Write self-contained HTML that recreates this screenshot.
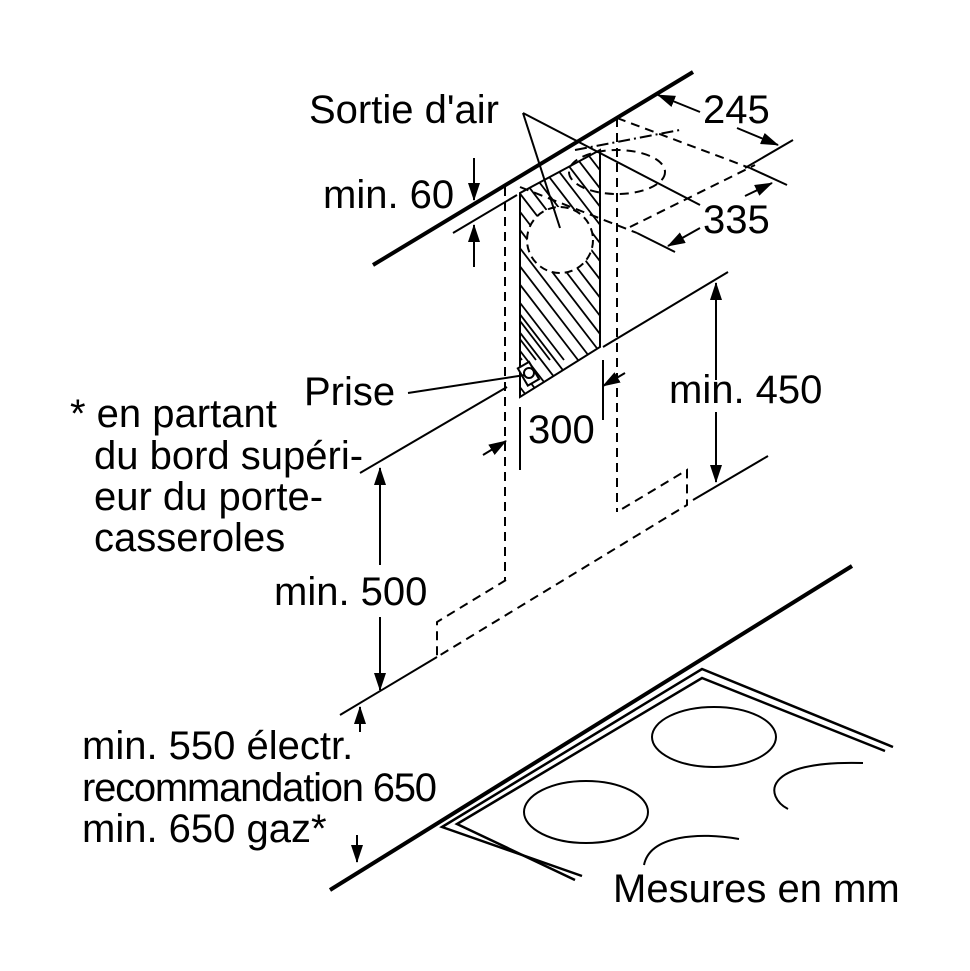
<!DOCTYPE html>
<html><head><meta charset="utf-8"><style>
html,body{margin:0;padding:0;background:#fff}
svg{display:block}
text{font-family:"Liberation Sans",sans-serif;font-size:40px;fill:#000}
</style></head><body>
<svg width="970" height="971" viewBox="0 0 970 971" xmlns="http://www.w3.org/2000/svg">
<defs>
<marker id="b" markerWidth="18" markerHeight="12" refX="17" refY="6" orient="auto" markerUnits="userSpaceOnUse" viewBox="0 0 18 12">
<path d="M0,0 L18,6 L0,12 Z" fill="#000"/></marker>
<clipPath id="panel"><path d="M520,193 L600,150 L600,347 L520,397 Z"/></clipPath>
</defs>
<g stroke="#000" fill="none" stroke-width="2">
<line x1="373" y1="265" x2="693" y2="72" stroke-width="4"/>
<line x1="330" y1="890" x2="852" y2="566" stroke-width="4"/>
<polyline points="582,876 442,827 702,669 893,747" stroke-width="2.5"/>
<polyline points="575,880 457,824 702,678 885,751" stroke-width="2.5"/>
<ellipse cx="714" cy="737" rx="62" ry="30"/>
<ellipse cx="586" cy="812" rx="62" ry="31"/>
<path d="M788,809 C765,797 760,760 863,763"/>
<path d="M644,865 C650,835 700,832 739,839"/>
<g clip-path="url(#panel)" stroke-width="1.8">
<line x1="420" y1="100" x2="620" y2="360"/><line x1="434" y1="100" x2="634" y2="360"/>
<line x1="448" y1="100" x2="648" y2="360"/><line x1="462" y1="100" x2="662" y2="360"/>
<line x1="476" y1="100" x2="676" y2="360"/><line x1="490" y1="100" x2="690" y2="360"/>
<line x1="504" y1="100" x2="704" y2="360"/><line x1="518" y1="100" x2="718" y2="360"/>
<line x1="532" y1="100" x2="732" y2="360"/><line x1="546" y1="100" x2="746" y2="360"/>
<line x1="406" y1="100" x2="606" y2="360"/><line x1="392" y1="100" x2="592" y2="360"/>
<line x1="378" y1="100" x2="578" y2="360"/><line x1="364" y1="100" x2="564" y2="360"/>
<line x1="350" y1="100" x2="550" y2="360"/><line x1="336" y1="100" x2="536" y2="360"/>
<line x1="322" y1="100" x2="522" y2="360"/><line x1="308" y1="100" x2="508" y2="360"/>
<line x1="294" y1="100" x2="494" y2="360"/><line x1="280" y1="100" x2="480" y2="360"/>
<line x1="266" y1="100" x2="466" y2="360"/><line x1="252" y1="100" x2="452" y2="360"/>
<line x1="238" y1="100" x2="438" y2="360"/><line x1="320" y1="200" x2="520" y2="460"/>
<line x1="334" y1="200" x2="534" y2="460"/><line x1="348" y1="200" x2="548" y2="460"/>
<line x1="362" y1="200" x2="562" y2="460"/><line x1="376" y1="200" x2="576" y2="460"/>
<line x1="390" y1="200" x2="590" y2="460"/><line x1="404" y1="200" x2="604" y2="460"/>
<line x1="418" y1="200" x2="618" y2="460"/><line x1="432" y1="200" x2="632" y2="460"/>
</g>
<path d="M520,193 L600,150 L600,347 L520,397 Z"/>
<circle cx="560" cy="240" r="33" fill="#fff" stroke-dasharray="8,5"/>
<rect x="522" y="364" width="13" height="20" transform="rotate(-30 528 374)" fill="#fff"/>
<circle cx="529" cy="373" r="5"/>
<g stroke-dasharray="9,6">
<line x1="505" y1="187" x2="505" y2="580"/>
<line x1="617" y1="118" x2="617" y2="512"/>
<polyline points="506,580 437,622 437,657 687,505 687,470 617,512"/>
<line x1="617" y1="118" x2="750" y2="168"/>
<line x1="630" y1="227" x2="755" y2="165"/>
<line x1="520" y1="187" x2="637" y2="233"/>
<ellipse cx="617" cy="172" rx="48" ry="22"/>
<line x1="575" y1="150" x2="680" y2="130" stroke-dasharray="12,4,2,4"/>
</g>
<line x1="750" y1="168" x2="787" y2="185"/>
<line x1="637" y1="233" x2="675" y2="252"/>
<line x1="745" y1="168" x2="793" y2="140"/>
<line x1="523" y1="113" x2="560" y2="228"/>
<line x1="523" y1="113" x2="700" y2="205"/>
<line x1="700" y1="112" x2="658" y2="95" marker-end="url(#b)"/>
<line x1="737" y1="128" x2="778" y2="145" marker-end="url(#b)"/>
<line x1="745" y1="196" x2="772" y2="183" marker-end="url(#b)"/>
<line x1="700" y1="228" x2="668" y2="246" marker-end="url(#b)"/>
<line x1="474" y1="158" x2="474" y2="200" marker-end="url(#b)"/>
<line x1="474" y1="267" x2="474" y2="225" marker-end="url(#b)"/>
<line x1="453" y1="233" x2="517" y2="195"/>
<line x1="603" y1="347" x2="728" y2="272"/>
<line x1="360" y1="473" x2="507" y2="387"/>
<line x1="693" y1="500" x2="768" y2="456"/>
<line x1="340" y1="715" x2="437" y2="657"/>
<line x1="716" y1="380" x2="716" y2="283" marker-end="url(#b)"/>
<line x1="716" y1="412" x2="716" y2="482" marker-end="url(#b)"/>
<line x1="483" y1="455" x2="506" y2="441" marker-end="url(#b)"/>
<line x1="520" y1="407" x2="520" y2="470"/>
<line x1="625" y1="373" x2="603" y2="386" marker-end="url(#b)"/>
<line x1="603" y1="360" x2="603" y2="420"/>
<line x1="380" y1="565" x2="380" y2="468" marker-end="url(#b)"/>
<line x1="380" y1="617" x2="380" y2="690" marker-end="url(#b)"/>
<line x1="360" y1="732" x2="360" y2="707" marker-end="url(#b)"/>
<line x1="357" y1="835" x2="357" y2="862" marker-end="url(#b)"/>
<line x1="408" y1="393" x2="525" y2="375"/>
</g>
<text x="309" y="123">Sortie d'air</text>
<text x="703" y="123">245</text>
<text x="323" y="208">min. 60</text>
<text x="703" y="233">335</text>
<text x="304" y="405">Prise</text>
<text x="669" y="403">min. 450</text>
<text x="528" y="443">300</text>
<text x="70" y="427">* en partant</text>
<text x="94" y="469">du bord supéri-</text>
<text x="94" y="510">eur du porte-</text>
<text x="94" y="551">casseroles</text>
<text x="274" y="605">min. 500</text>
<text x="82" y="759">min. 550 électr.</text>
<text x="82" y="801" textLength="355">recommandation 650</text>
<text x="82" y="842">min. 650 gaz*</text>
<text x="613" y="902">Mesures en mm</text>
</svg>
</body></html>
